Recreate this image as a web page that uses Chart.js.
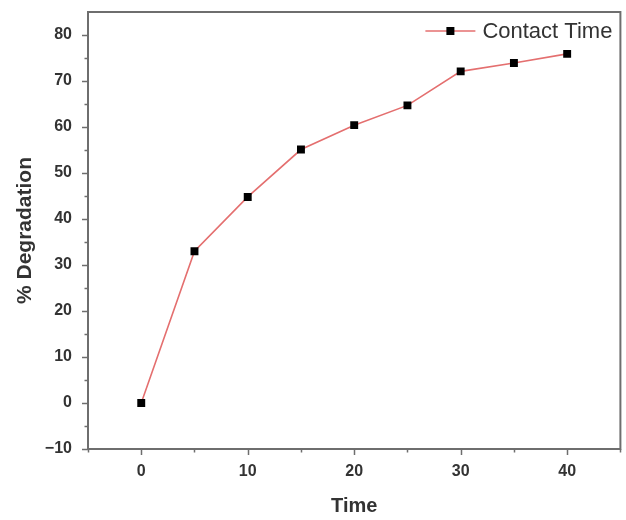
<!DOCTYPE html>
<html>
<head>
<meta charset="utf-8">
<script src="https://cdn.jsdelivr.net/npm/chart.js@4"></script>
<style>
  html, body { margin: 0; padding: 0; background: #fff; }
  #wrap { width: 626px; height: 520px; position: relative; }
</style>
</head>
<body>
<div id="wrap"><canvas id="c" width="626" height="520"></canvas></div>
<script>
const times = [0, 5, 10, 15, 20, 25, 30, 35, 40];
const degradation = [0, 33.0, 44.8, 55.1, 60.4, 64.7, 72.1, 73.9, 75.9];
const seriesLabel = 'Contact Time';
const xTitle = 'Time';
const yTitle = '% Degradation';
const xRange = [-5, 45];
const yRange = [-10, 85];

const FONT = '"Liberation Sans", Arial, sans-serif';
const AXIS_COLOR = '#6e6e6e';
const TEXT_COLOR = '#333333';
const LINE_COLOR = '#e46f6f';

const framePlugin = {
  id: 'frame',
  afterDraw(chart) {
    const ctx = chart.ctx;
    const a = chart.chartArea;
    const xs = chart.scales.x, ys = chart.scales.y;
    ctx.save();
    ctx.strokeStyle = AXIS_COLOR;
    ctx.lineWidth = 2;
    ctx.strokeRect(a.left, a.top, a.right - a.left, a.bottom - a.top);
    ctx.lineWidth = 1.5;
    for (let v = xRange[0]; v <= xRange[1]; v += 5) {
      const px = Math.round(xs.getPixelForValue(v)) + 0.5;
      const len = (v % 10 === 0) ? 6 : 3.5;
      ctx.beginPath();
      ctx.moveTo(px, a.bottom);
      ctx.lineTo(px, a.bottom + len);
      ctx.stroke();
    }
    for (let v = yRange[0]; v <= 80; v += 5) {
      const py = Math.round(ys.getPixelForValue(v)) + 0.5;
      const len = (v % 10 === 0) ? 6 : 3.5;
      ctx.beginPath();
      ctx.moveTo(a.left, py);
      ctx.lineTo(a.left - len, py);
      ctx.stroke();
    }
    // legend
    ctx.font = '22px ' + FONT;
    ctx.textBaseline = 'middle';
    ctx.textAlign = 'left';
    const label = seriesLabel;
    const tw = ctx.measureText(label).width;
    const tx = a.right - 8 - tw;
    const ty = a.top + 20;
    ctx.fillStyle = TEXT_COLOR;
    ctx.fillText(label, tx, ty);
    ctx.strokeStyle = LINE_COLOR;
    ctx.lineWidth = 1.6;
    ctx.beginPath();
    ctx.moveTo(tx - 57, ty - 1);
    ctx.lineTo(tx - 7, ty - 1);
    ctx.stroke();
    ctx.fillStyle = '#000';
    ctx.fillRect(tx - 32 - 4, ty - 1 - 4, 8, 8);
    ctx.restore();
  }
};

function zeroPad(s) {
  s.paddingTop = 0; s.paddingBottom = 0; s.paddingLeft = 0; s.paddingRight = 0;
}

new Chart(document.getElementById('c'), {
  type: 'scatter',
  data: {
    datasets: [{
      label: seriesLabel,
      data: times.map((t, i) => ({ x: t, y: degradation[i] })),
      showLine: true,
      borderColor: LINE_COLOR,
      borderWidth: 1.6,
      pointStyle: 'rect',
      pointRadius: 5.6,
      pointBackgroundColor: '#000',
      pointBorderColor: '#000',
      pointBorderWidth: 0,
      tension: 0
    }]
  },
  options: {
    responsive: false,
    animation: false,
    devicePixelRatio: 1,
    layout: { padding: { left: 0, right: 4, top: 12, bottom: 0 } },
    plugins: { legend: { display: false }, tooltip: { enabled: false } },
    scales: {
      x: {
        type: 'linear',
        min: xRange[0], max: xRange[1],
        grid: { display: false, drawTicks: false },
        border: { display: false },
        ticks: {
          stepSize: 5,
          autoSkip: false,
          maxRotation: 0,
          padding: 13,
          color: TEXT_COLOR,
          font: { family: FONT, size: 16, weight: 'bold' },
          callback: (v) => (v % 10 === 0 && v >= 0 && v <= 40) ? String(v) : ''
        },
        title: {
          display: true, text: xTitle, color: TEXT_COLOR,
          font: { family: FONT, size: 20, weight: 'bold', lineHeight: 1 },
          padding: { top: 0, bottom: 4 }
        },
        afterFit: (s) => { s.height = 71; zeroPad(s); }
      },
      y: {
        type: 'linear',
        min: yRange[0], max: yRange[1],
        grid: { display: false, drawTicks: false },
        border: { display: false },
        ticks: {
          stepSize: 5,
          autoSkip: false,
          padding: 16,
          color: TEXT_COLOR,
          font: { family: FONT, size: 16, weight: 'bold' },
          callback: (v) => (v % 10 === 0 && v <= 80) ? String(v).replace('-', '\u2212') : ''
        },
        title: {
          display: true, text: yTitle, color: TEXT_COLOR,
          font: { family: FONT, size: 21, weight: 'bold', lineHeight: 1 },
          padding: { top: 15, bottom: 0 }
        },
        afterFit: (s) => { s.width = 88; zeroPad(s); }
      }
    }
  },
  plugins: [framePlugin]
});
</script>
</body>
</html>
